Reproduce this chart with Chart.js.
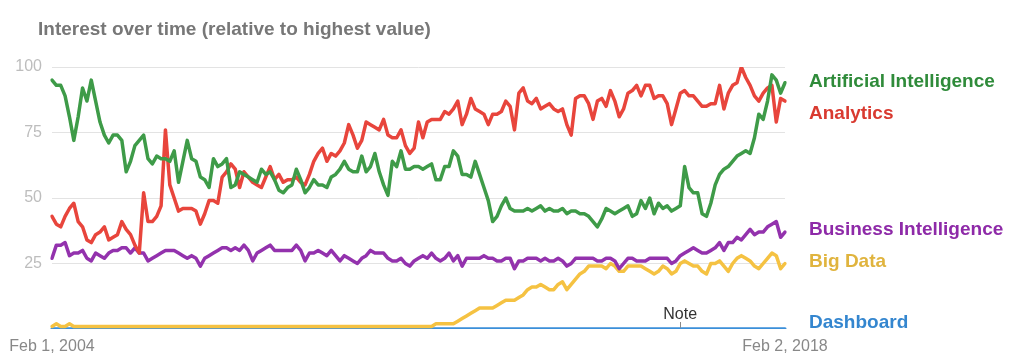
<!DOCTYPE html>
<html>
<head>
<meta charset="utf-8">
<script src="https://cdn.jsdelivr.net/npm/chart.js@4/dist/chart.umd.min.js"></script>
<style>
  html, body { margin: 0; padding: 0; background: #ffffff; }
  #wrap { position: relative; width: 1024px; height: 364px; overflow: hidden; font-family: "Liberation Sans", Arial, sans-serif; }
  #c { position: absolute; left: 0; top: 0; }
  .txt { position: absolute; white-space: nowrap; line-height: 19px; }
  #title { left: 38px; top: 19px; font-size: 19px; font-weight: bold; color: #777777; }
  .lab { left: 809px; font-size: 19px; font-weight: bold; }
  #note { font-size: 16px; line-height: 16px; color: #333333; top: 306px; }
</style>
</head>
<body>
<div id="wrap">
  <canvas id="c" width="1024" height="364"></canvas>
  <div id="title" class="txt">Interest over time (relative to highest value)</div>
  <div class="txt lab" style="top:71px;color:#2f8b3a">Artificial Intelligence</div>
  <div class="txt lab" style="top:103px;color:#d93a30">Analytics</div>
  <div class="txt lab" style="top:219px;color:#8e2aa8">Business Intelligence</div>
  <div class="txt lab" style="top:251px;color:#e0b43e">Big Data</div>
  <div class="txt lab" style="top:312px;color:#3486cf">Dashboard</div>
  <div id="note" class="txt">Note</div>
</div>
<script>
// ---- data (monthly, Feb 2004 .. Feb 2018) ----
const years = [2004, 2005, 2006, 2007, 2008, 2009, 2010, 2011, 2012, 2013, 2014, 2015, 2016, 2017, 2018];
const monthNames = ["Jan", "Feb", "Mar", "Apr", "May", "Jun", "Jul", "Aug", "Sep", "Oct", "Nov", "Dec"];
const firstMonth = 1;   // Feb 2004
const lastMonth = 1;    // Feb 2018
const xTickLabels = ["Feb 1, 2004", "Feb 2, 2018"];
const yTicks = [0, 25, 50, 75, 100];
const seriesNames = ["Artificial Intelligence", "Analytics", "Business Intelligence", "Big Data", "Dashboard"];

const artificialIntelligence = [
  95,93,93,89,81,72,81,92,87,95,87,79,74,71,74,74,72,60,64,70,72,74,65,63,66,65,65,
  64,68,56,64,72,65,64,58,57,54,65,62,63,65,54,55,60,59,58,57,56,61,59,60,57,53,52,54,
  55,61,57,52,54,57,55,55,54,58,59,61,64,61,60,60,66,60,62,67,60,55,51,64,62,68,61,61,62,62,
  61,62,63,57,57,62,62,68,66,59,59,58,64,59,54,49,41,43,47,50,46,45,45,45,46,45,46,47,
  45,46,45,45,46,44,45,45,44,44,43,41,39,42,46,45,44,45,46,47,43,44,49,46,50,44,48,46,
  47,45,46,47,62,54,52,52,44,43,48,55,59,61,62,64,66,67,68,67,73,82,80,87,97,95,90,94
];
const analytics = [
  43,40,39,43,46,48,41,39,34,33,36,37,39,34,35,36,41,38,36,32,29,52,41,41,43,47,76,
  55,50,45,46,46,46,45,40,44,49,49,48,58,60,63,61,54,60,58,56,55,54,58,62,57,59,56,57,
  57,58,56,55,59,64,67,69,64,67,66,68,71,78,74,69,72,79,78,77,76,80,74,73,73,76,70,67,69,79,
  73,79,80,80,80,83,82,84,87,78,82,88,84,83,82,78,82,82,83,87,85,76,90,92,87,86,88,84,
  85,86,84,83,84,78,74,88,89,89,86,80,87,88,85,91,87,81,84,90,91,93,89,93,93,88,89,89,
  86,78,84,90,91,89,89,87,85,85,86,86,93,84,90,93,94,100,96,93,89,87,90,92,93,79,88,87
];
const businessIntelligence = [
  27,32,32,33,28,29,29,30,27,26,29,28,27,29,30,30,31,31,29,31,29,29,26,27,28,29,30,
  30,30,29,28,27,28,27,24,27,28,29,30,31,31,30,31,30,32,30,26,29,30,31,32,30,30,30,30,
  30,32,30,26,29,29,30,29,28,30,28,26,28,27,26,25,27,28,30,29,29,29,27,26,26,27,25,24,26,27,
  28,27,29,27,26,27,29,26,28,24,27,27,27,27,28,27,27,26,26,27,27,23,26,26,27,27,27,26,
  27,26,26,27,26,24,25,27,27,27,27,27,26,26,27,27,26,23,25,27,27,26,26,26,27,27,27,27,
  27,25,26,28,29,30,31,30,29,29,30,31,33,30,33,33,35,34,36,38,36,37,37,39,40,41,35,37
];
const bigData = [
  1,2,1,1,2,1,1,1,1,1,1,1,1,1,1,1,1,1,1,1,1,1,1,1,1,1,1,
  1,1,1,1,1,1,1,1,1,1,1,1,1,1,1,1,1,1,1,1,1,1,1,1,1,1,1,1,
  1,1,1,1,1,1,1,1,1,1,1,1,1,1,1,1,1,1,1,1,1,1,1,1,1,1,1,1,1,1,
  1,1,1,2,2,2,2,2,3,4,5,6,7,8,8,8,8,9,10,11,11,11,12,13,15,16,16,17,
  16,15,15,17,18,15,17,19,21,22,24,24,24,24,23,25,24,22,22,24,24,24,24,23,22,21,22,24,
  23,21,22,25,26,25,24,24,22,21,25,25,26,24,22,25,27,28,27,26,24,23,25,27,29,28,23,25
];
const dashboard = [
  0,0,0,0,0,0,0,0,0,0,0,0,0,0,0,0,0,0,0,0,0,0,0,0,0,0,0,
  0,0,0,0,0,0,0,0,0,0,0,0,0,0,0,0,0,0,0,0,0,0,0,0,0,0,0,0,
  0,0,0,0,0,0,0,0,0,0,0,0,0,0,0,0,0,0,0,0,0,0,0,0,0,0,0,0,0,0,
  0,0,0,0,0,0,0,0,0,0,0,0,0,0,0,0,0,0,0,0,0,0,0,0,0,0,0,0,
  0,0,0,0,0,0,0,0,0,0,0,0,0,0,0,0,0,0,0,0,0,0,0,0,0,0,0,0,
  0,0,0,0,0,0,0,0,0,0,0,0,0,0,0,0,0,0,0,0,0,0,0,0,0,0,0,0
];
const noteIndex = 144;

// ---- category labels built from the small arrays ----
const labels = [];
years.forEach((y, yi) => {
  monthNames.forEach((m, mi) => {
    if (yi === 0 && mi < firstMonth) return;
    if (yi === years.length - 1 && mi > lastMonth) return;
    labels.push(m + " " + y);
  });
});

const colors = ["#3e9b48", "#e8453c", "#9332ad", "#f5c242", "#3b8fd9"];
const values = [artificialIntelligence, analytics, businessIntelligence, bigData, dashboard];

const notePlugin = {
  id: "notePlugin",
  afterDatasetsDraw(chart) {
    const ctx = chart.ctx;
    const x = chart.scales.x.getPixelForValue(noteIndex);
    const y0 = chart.scales.y.getPixelForValue(0);
    ctx.save();
    ctx.strokeStyle = "#8a8a8a";
    ctx.lineWidth = 1;
    ctx.beginPath();
    ctx.moveTo(Math.round(x) + 0.5, y0 - 7);
    ctx.lineTo(Math.round(x) + 0.5, y0 - 1);
    ctx.stroke();
    ctx.restore();
    const note = document.getElementById("note");
    note.style.left = (x - note.offsetWidth / 2) + "px";
  }
};

new Chart(document.getElementById("c"), {
  type: "line",
  data: {
    labels: labels,
    datasets: seriesNames.map((name, i) => ({
      label: name,
      data: values[i],
      borderColor: colors[i],
      backgroundColor: colors[i],
      borderWidth: 3.5,
      pointRadius: 0,
      tension: 0,
      fill: false,
      borderJoinStyle: "round",
      borderCapStyle: "round"
    }))
  },
  options: {
    responsive: false,
    animation: false,
    events: [],
    layout: { padding: { left: 0, right: 239, top: 67, bottom: 0 } },
    plugins: { legend: { display: false }, tooltip: { enabled: false }, title: { display: false } },
    scales: {
      x: {
        type: "category",
        grid: { display: false, drawTicks: false },
        border: { display: false },
        afterFit(scale) { scale.height = 35; },
        ticks: {
          autoSkip: false,
          maxRotation: 0,
          minRotation: 0,
          padding: 8,
          color: "#888888",
          font: { family: "'Liberation Sans', Arial, sans-serif", size: 16 },
          callback(value, index) {
            if (index === 0) return xTickLabels[0];
            if (index === labels.length - 1) return xTickLabels[1];
            return "";
          }
        }
      },
      y: {
        min: yTicks[0],
        max: yTicks[yTicks.length - 1],
        afterFit(scale) { scale.width = 52; },
        afterBuildTicks(scale) { scale.ticks = yTicks.map(v => ({ value: v })); },
        grid: {
          drawTicks: false,
          lineWidth: 1,
          color(ctx) { return ctx.tick && ctx.tick.value === 0 ? "rgba(0,0,0,0)" : "#e3e3e3"; }
        },
        border: { display: false },
        ticks: {
          padding: 10,
          color: "#bdbdbd",
          font: { family: "'Liberation Sans', Arial, sans-serif", size: 16 },
          callback(value) { return value === 0 ? "" : String(value); }
        }
      }
    }
  },
  plugins: [notePlugin]
});
</script>
</body>
</html>
